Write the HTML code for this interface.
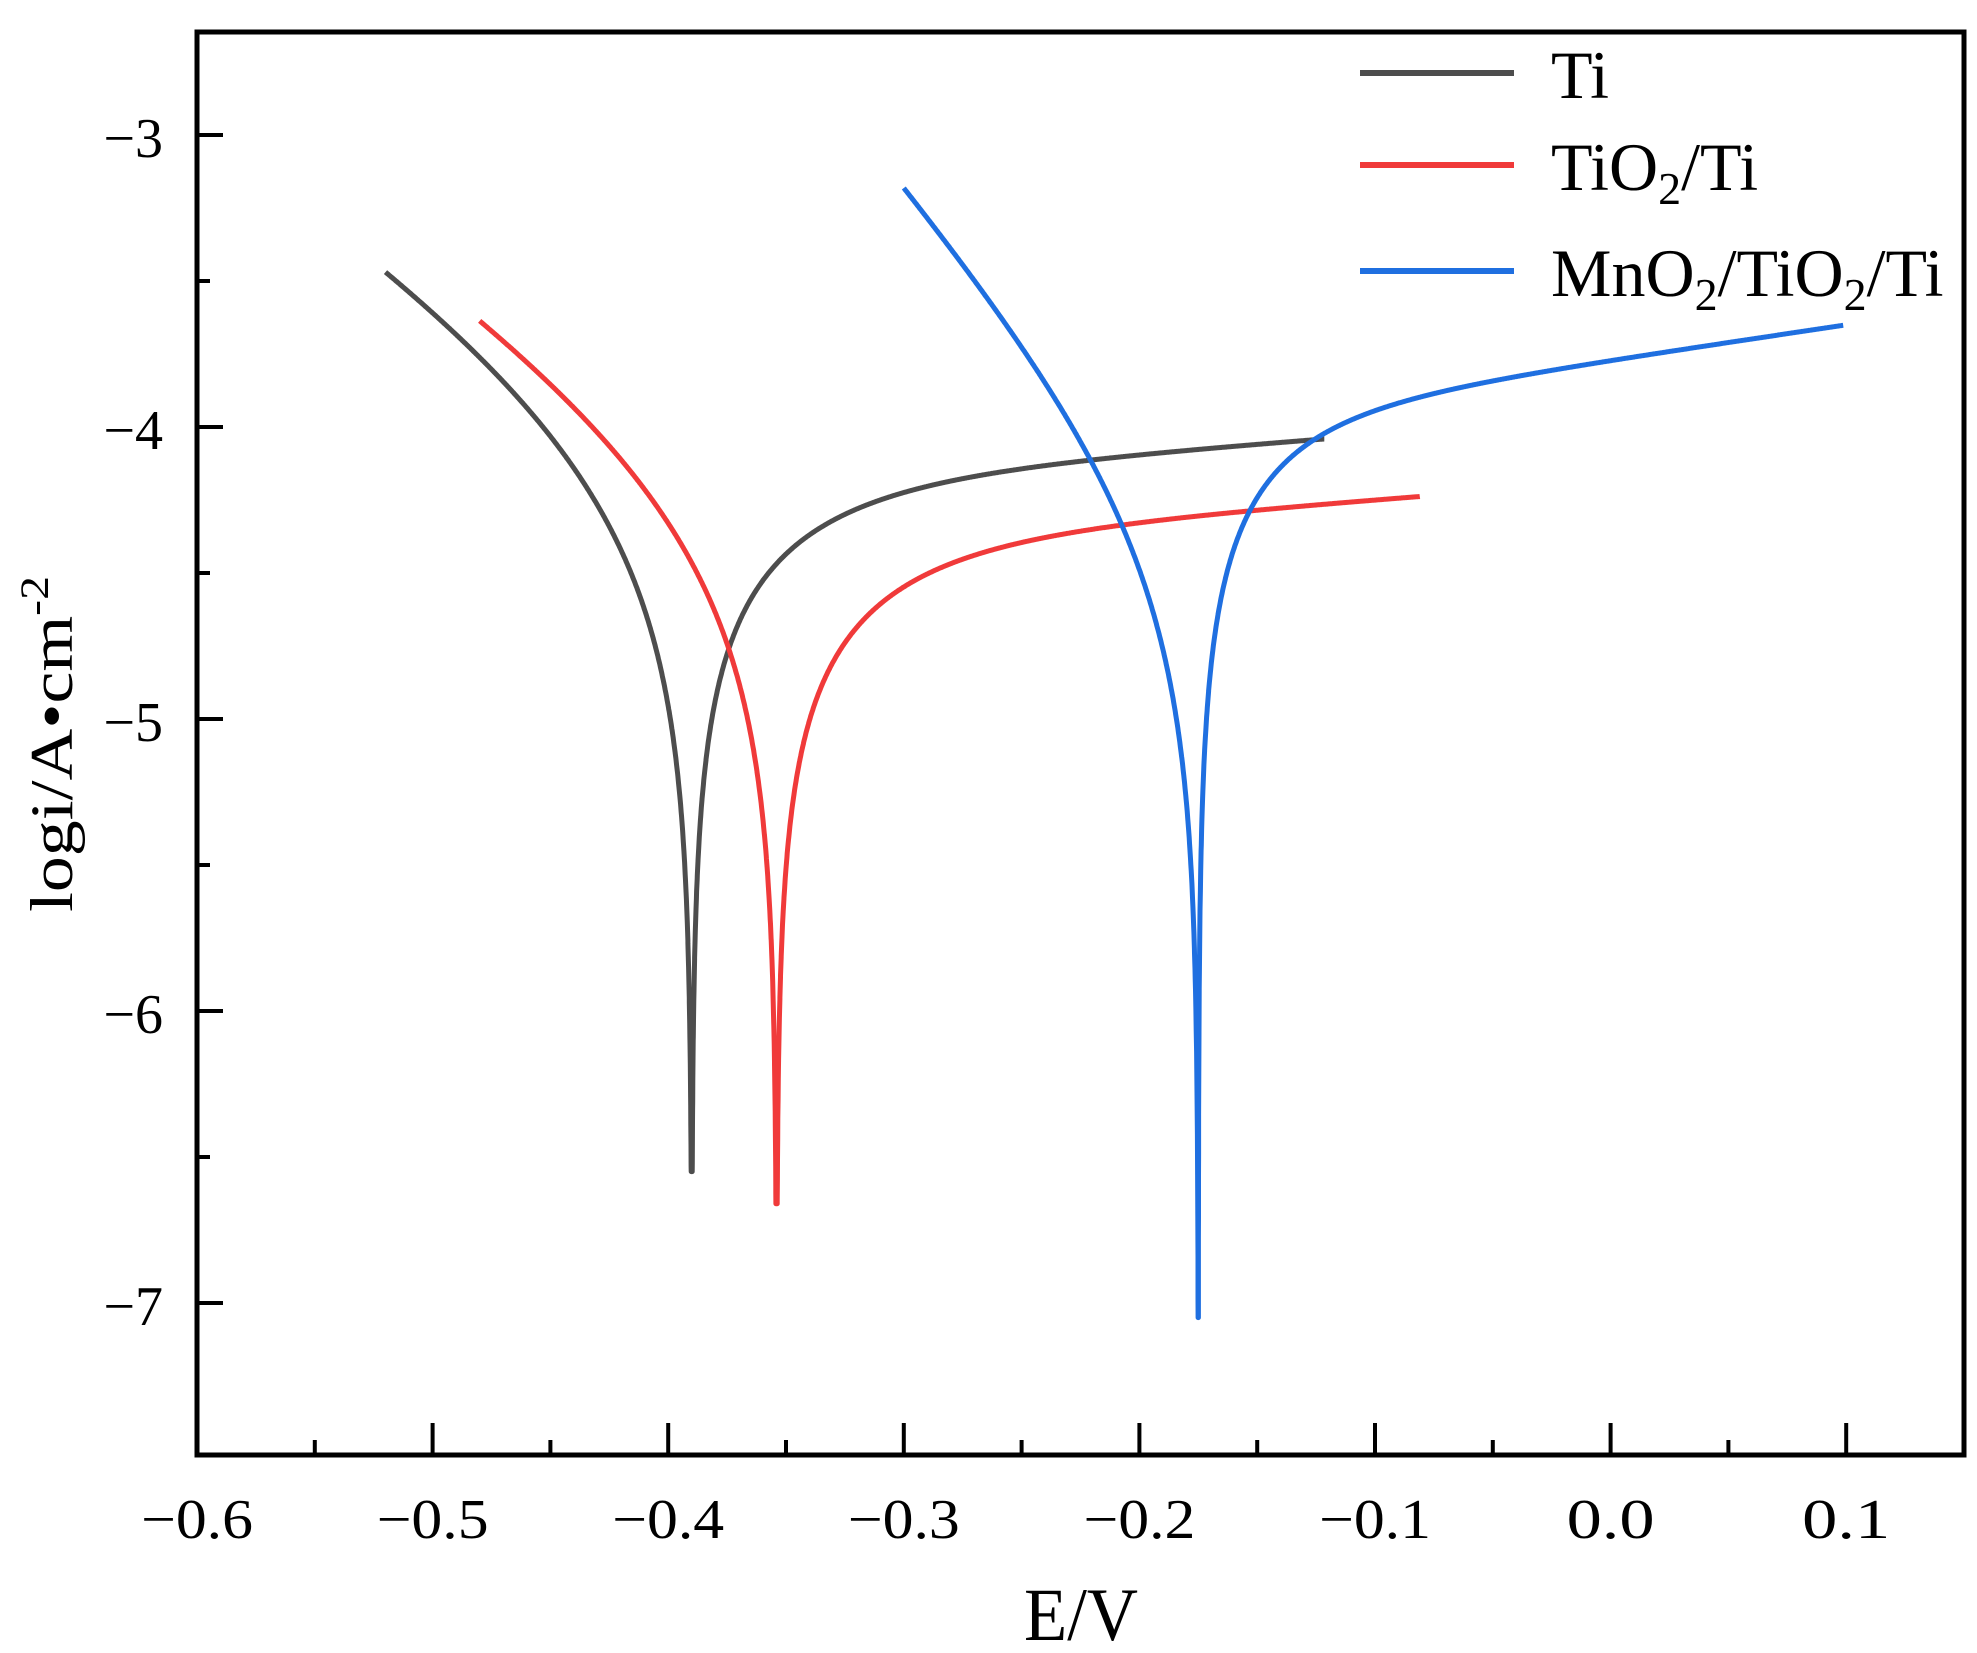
<!DOCTYPE html>
<html><head><meta charset="utf-8"><style>
html,body{margin:0;padding:0;background:#fff;}
svg{display:block;}
text{font-family:"Liberation Serif","Times New Roman",serif;fill:#000;}
</style></head><body>
<svg id="s" width="1977" height="1653" viewBox="0 0 1977 1653" xmlns="http://www.w3.org/2000/svg">
<rect width="1977" height="1653" fill="#fff"/>
<g id="curves" fill="none" stroke-width="5" stroke-linejoin="round"></g>
<rect x="197" y="32" width="1767" height="1423" fill="none" stroke="#000" stroke-width="5"/>
<g id="ticks" stroke="#000" stroke-width="4"></g>
<g id="labels" font-size="56"></g>
<text x="1081" y="1640" font-size="75" text-anchor="middle" textLength="114" lengthAdjust="spacingAndGlyphs">E/V</text>
<text transform="translate(72,744) rotate(-90)" font-size="60" text-anchor="middle" textLength="336" lengthAdjust="spacingAndGlyphs">logi/A•cm<tspan dy="-24" font-size="40">-2</tspan></text>
<line x1="1360" y1="73" x2="1514" y2="73" stroke="#4d4d4d" stroke-width="6"/>
<line x1="1360" y1="165" x2="1514" y2="165" stroke="#f03a3a" stroke-width="6"/>
<line x1="1360" y1="271" x2="1514" y2="271" stroke="#1f6fe0" stroke-width="6"/>
<text x="1551" y="98" font-size="68">Ti</text>
<text x="1551" y="190" font-size="68">TiO<tspan font-size="46" dy="14">2</tspan><tspan dy="-14">/Ti</tspan></text>
<text x="1551" y="296" font-size="68">MnO<tspan font-size="46" dy="14">2</tspan><tspan dy="-14">/TiO</tspan><tspan font-size="46" dy="14">2</tspan><tspan dy="-14">/Ti</tspan></text>
</svg>
<script>
const X=e=>197+(e+0.6)*2356, Y=v=>135+(-3-v)*292;
const NS="http://www.w3.org/2000/svg";
const tk=document.getElementById('ticks'), lb=document.getElementById('labels');
function ln(a,b,c,d){const l=document.createElementNS(NS,'line');l.setAttribute('x1',a);l.setAttribute('y1',b);l.setAttribute('x2',c);l.setAttribute('y2',d);tk.appendChild(l);}
function tx(x,y,s,anchor,len){const t=document.createElementNS(NS,'text');t.setAttribute('x',x);t.setAttribute('y',y);t.setAttribute('text-anchor',anchor);if(len){t.setAttribute('textLength',len);t.setAttribute('lengthAdjust','spacingAndGlyphs');}t.textContent=s;lb.appendChild(t);}
const xl=['−0.6','−0.5','−0.4','−0.3','−0.2','−0.1','0.0','0.1'];
for(let i=0;i<=15;i++){const e=-0.6+i*0.05,x=X(e);if(x>1962)break;const maj=i%2==0;ln(x,1455,x,1455-(maj?32:15));if(maj)tx(x,1538,xl[i/2],'middle',xl[i/2].length==3?88:112);}
for(let i=0;i<=14;i++){const v=-2-i*0.5;const y=Y(v);if(y<34||y>1430)continue;const maj=(i%2==0);ln(197,y,197+(maj?26:13),y);if(maj)tx(163,y+22,'−'+(-v),'end');}
function curve(col,Ec,ymin,E0,E1,ip,ba,m,i0,bc){
 let pts=[];const N=1400;
 let es=[];for(let k=0;k<=N;k++)es.push(E0+(E1-E0)*k/N);
 for(let k=1;k<60;k++){es.push(Ec+Math.pow(10,-6+k*0.07));es.push(Ec-Math.pow(10,-6+k*0.07));}
 es.push(Ec);es=es.filter(e=>e>=E0&&e<=E1).sort((a,b)=>a-b);
 for(const e of es){const h=e-Ec;let i;
  if(h>=0)i=Math.pow(10,ip+m*h)*(1-Math.exp(-h/ba));else i=Math.pow(10,i0)*(Math.exp(-h/bc)-1);
  let y=i>0?Math.log10(i):ymin;if(y<ymin)y=ymin;pts.push(X(e).toFixed(1)+','+Y(y).toFixed(1));}
 const p=document.createElementNS(NS,'polyline');p.setAttribute('points',pts.join(' '));p.setAttribute('stroke',col);document.getElementById('curves').appendChild(p);}
curve('#4d4d4d',-0.390,-6.55,-0.520,-0.1215,-4.20,0.05,0.6,-4.08,0.08);
curve('#f03a3a',-0.354,-6.66,-0.480,-0.081,-4.40,0.05,0.6,-4.22,0.08);
curve('#1f6fe0',-0.175,-7.05,-0.300,0.099,-3.98,0.035,1.2,-4.36,0.045);
</script>
</body></html>
